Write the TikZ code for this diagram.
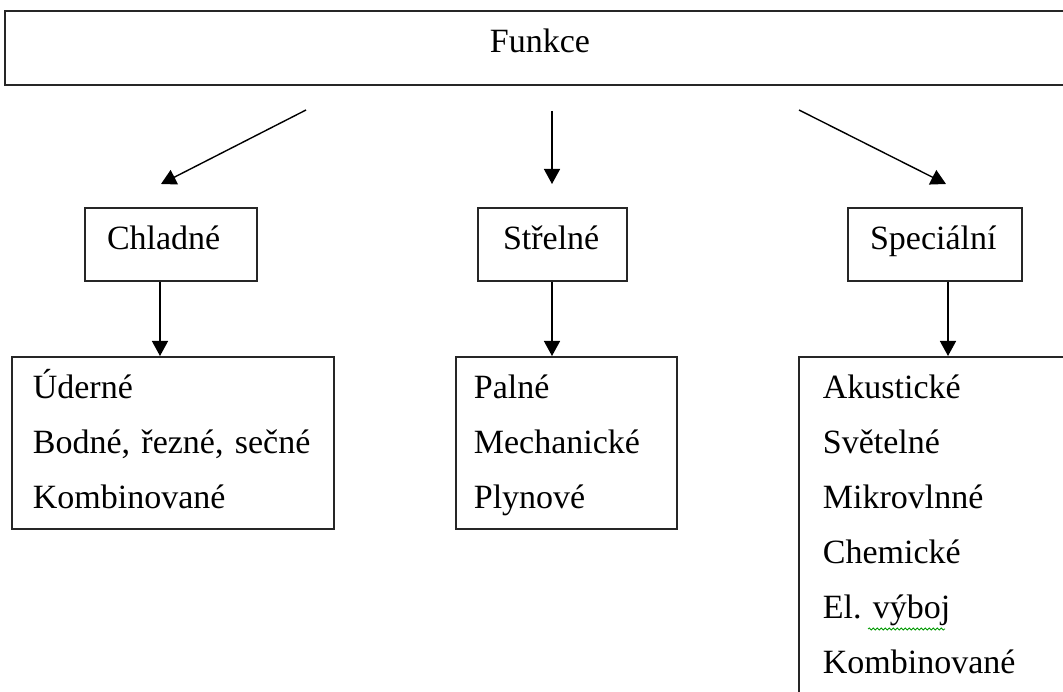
\documentclass[tikz,border=0pt]{standalone}
\usepackage{fontspec}
\setmainfont{Liberation Serif}
\frenchspacing
\usetikzlibrary{arrows.meta,decorations.pathmorphing}
\tikzstyle{box} = [draw=black!85,line width=1.7pt,inner ysep=0pt,align=left,font=\fontsize{34}{55}\selectfont\frenchspacing]
\tikzstyle{head} = [box,minimum height=73pt,text height=23pt,text depth=12pt]
\tikzstyle{list} = [box,anchor=north west,inner ysep=3.5pt]
\tikzstyle{arr} = [-{Triangle[width=16pt,length=15pt]},line width=1.4pt]

\begin{document}
\begin{tikzpicture}[x=1pt,y=-1pt]
\clip (0,0) rectangle (1063,692);

\node[box,align=center,minimum width=1070pt,minimum height=74pt,text height=22pt,text depth=12pt] (funkce) at (540,48) {Funkce};

\node[head,inner xsep=22pt,text width=128pt] (chladne)   at (171,244.5) {Chladné};
\node[head,inner xsep=25pt,text width=99pt]  (strelne)   at (552.5,244.5) {Střelné};
\node[head,inner xsep=22pt,text width=130pt] (specialni) at (935,244.5) {Speciální};

\node[list,inner xsep=21pt,text width=280pt] (chladnelist) at (11,356)
  {\strut Úderné\\\strut Bodné, řezné, sečné\\\strut Kombinované};
\node[list,inner xsep=18pt,text width=185pt] (strelnelist) at (455,356)
  {\strut Palné\\\strut Mechanické\\\strut Plynové};
\node[list,inner xsep=24pt,text width=240pt] (specialnilist) at (798,356)
  {\strut Akustické\\\strut Světelné\\\strut Mikrovlnné\\\strut Chemické\\\strut El. výboj\\\strut Kombinované\\\strut};

% arrows from the top box
\coordinate (l1) at (306,110);
\coordinate (l2) at (161,184);
\coordinate (m1) at (552,111);
\coordinate (m2) at (552,184);
\coordinate (r1) at (799,110);
\coordinate (r2) at (946,184);
\draw[arr] (l1) -- (l2);
\draw[arr] (m1) -- (m2);
\draw[arr] (r1) -- (r2);

% arrows down to the lists
\draw[arr] ([xshift=-11pt]chladne.south) -- ([xshift=-11pt]chladne.south |- chladnelist.north);
\draw[arr] ([xshift=-0.5pt]strelne.south) -- ([xshift=-0.5pt]strelne.south |- strelnelist.north);
\draw[arr] ([xshift=13pt]specialni.south) -- ([xshift=13pt]specialni.south |- specialnilist.north);

% spelling mark
\draw[green!60!black,line width=0.8pt,decorate,decoration={snake,amplitude=1pt,segment length=4pt}] (868,629) -- (945,629);
\end{tikzpicture}
\end{document}
